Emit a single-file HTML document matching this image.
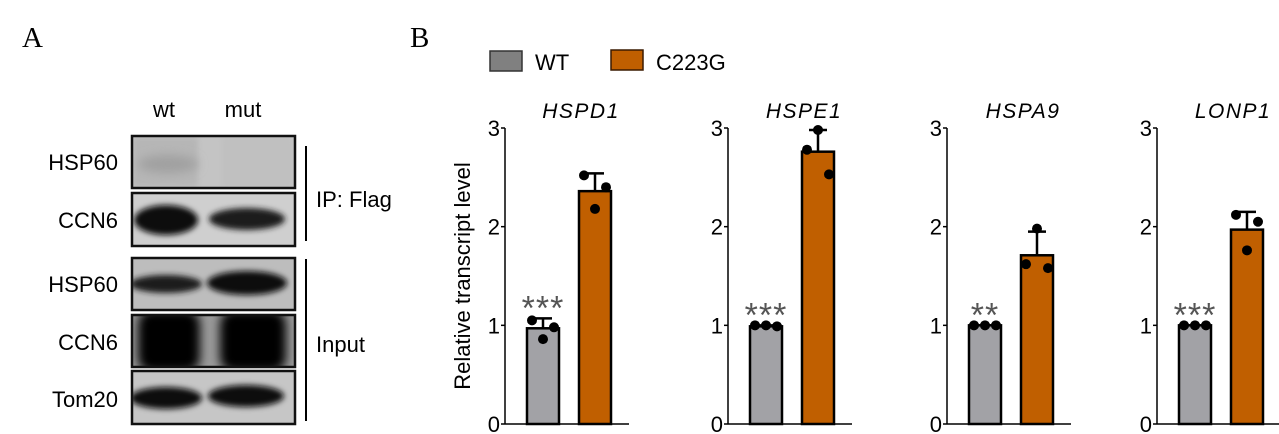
<!DOCTYPE html>
<html><head><meta charset="utf-8">
<style>
body{margin:0;background:#fff;width:1279px;height:434px;overflow:hidden}
svg{display:block}
text{font-family:"Liberation Sans",sans-serif}
</style></head>
<body>
<svg id="fig" width="1279" height="434" viewBox="0 0 1279 434" xmlns="http://www.w3.org/2000/svg">
<defs>
<filter id="blur" x="-30%" y="-60%" width="160%" height="220%"><feGaussianBlur stdDeviation="5"/></filter>
<filter id="blur2" x="-30%" y="-60%" width="160%" height="220%"><feGaussianBlur stdDeviation="3"/></filter>
<filter id="blur4" x="-30%" y="-60%" width="160%" height="220%"><feGaussianBlur stdDeviation="5"/></filter>
<clipPath id="c1"><rect x="133" y="137" width="161" height="50"/></clipPath>
<clipPath id="c2"><rect x="133" y="194" width="161" height="51"/></clipPath>
<clipPath id="c3"><rect x="133" y="259" width="161" height="50"/></clipPath>
<clipPath id="c4"><rect x="133" y="316" width="161" height="50"/></clipPath>
<clipPath id="c5"><rect x="133" y="372" width="161" height="51"/></clipPath>
</defs>
<text x="22" y="47" style="font-family:'Liberation Serif',serif" font-size="29">A</text>
<text x="410" y="47" style="font-family:'Liberation Serif',serif" font-size="29">B</text>

<g>
<text x="164" y="117" font-size="22" text-anchor="middle">wt</text>
<text x="243" y="117" font-size="22" text-anchor="middle">mut</text>
<g font-size="22" text-anchor="end">
<text x="118" y="170">HSP60</text>
<text x="118" y="228">CCN6</text>
<text x="118" y="292">HSP60</text>
<text x="118" y="350">CCN6</text>
<text x="118" y="407">Tom20</text>
</g>
<g clip-path="url(#c1)">
<rect x="133" y="137" width="161" height="50" fill="#c4c4c4"/>
<rect x="133" y="137" width="65" height="50" fill="#b6b6b6" filter="url(#blur2)"/>
<rect x="222" y="137" width="70" height="50" fill="#c0c0c0" filter="url(#blur2)"/>
<ellipse cx="168" cy="164" rx="30" ry="9" fill="#a0a0a0" filter="url(#blur)"/>
</g>
<g clip-path="url(#c2)">
<rect x="133" y="194" width="161" height="51" fill="#cfcfcf"/>
<ellipse cx="166" cy="220" rx="32" ry="15" fill="#0a0a0a" filter="url(#blur2)"/>
<ellipse cx="247" cy="219" rx="38" ry="11" fill="#1a1a1a" filter="url(#blur2)"/>
</g>
<g clip-path="url(#c3)">
<rect x="133" y="259" width="161" height="50" fill="#bdbdbd"/>
<ellipse cx="166" cy="284" rx="36" ry="9" fill="#1a1a1a" filter="url(#blur2)"/>
<ellipse cx="247" cy="283" rx="40" ry="12" fill="#101010" filter="url(#blur2)"/>
</g>
<g clip-path="url(#c4)">
<rect x="133" y="316" width="161" height="50" fill="#9a9a9a"/>
<rect x="138" y="310" width="62" height="62" rx="14" fill="#000" filter="url(#blur4)"/>
<rect x="220" y="310" width="66" height="62" rx="14" fill="#000" filter="url(#blur4)"/>
</g>
<g clip-path="url(#c5)">
<rect x="133" y="372" width="161" height="51" fill="#c6c6c6"/>
<ellipse cx="166" cy="398" rx="36" ry="11" fill="#0a0a0a" filter="url(#blur2)"/>
<ellipse cx="246" cy="396" rx="38" ry="11" fill="#0a0a0a" filter="url(#blur2)"/>
</g>
<g fill="none" stroke="#111" stroke-width="2.5">
<rect x="132" y="136" width="163" height="52"/>
<rect x="132" y="193" width="163" height="53"/>
<rect x="132" y="258" width="163" height="52"/>
<rect x="132" y="315" width="163" height="52"/>
<rect x="132" y="371" width="163" height="53"/>
</g>
<line x1="306" y1="146" x2="306" y2="241" stroke="#000" stroke-width="2"/>
<line x1="306" y1="259" x2="306" y2="421" stroke="#000" stroke-width="2"/>
<text x="316" y="207" font-size="22">IP: Flag</text>
<text x="316" y="352" font-size="22">Input</text>
</g>

<g>
<rect x="490" y="51" width="32" height="20" fill="#808080" stroke="#333" stroke-width="1.5"/>
<text x="535" y="70" font-size="22">WT</text>
<rect x="611" y="50" width="32" height="20" fill="#c05f00" stroke="#3a1a00" stroke-width="1.5"/>
<text x="656" y="70" font-size="22">C223G</text>
</g>
<text transform="translate(470,276) rotate(-90)" font-size="22" text-anchor="middle">Relative transcript level</text>
<g id="charts"></g>
</svg>
<script>
const genes = ["HSPD1","HSPE1","HSPA9","LONP1"];
const wtMeans = [0.97, 0.99, 1.0, 1.0];
const wtErr = [1.07, 1.0, 1.0, 1.0];
const wtPoints = [[1.05,0.86,0.98],[1.0,1.0,0.99],[1.0,1.0,1.0],[1.0,1.0,1.0]];
const mutMeans = [2.36, 2.76, 1.71, 1.97];
const mutErr = [2.54, 2.98, 1.95, 2.15];
const mutPoints = [[2.52,2.18,2.4],[2.78,2.98,2.53],[1.62,1.98,1.58],[2.12,1.76,2.05]];
const stars = ["***","***","**","***"];
const yTicks = [0,1,2,3];

const NS="http://www.w3.org/2000/svg";
const root=document.getElementById('charts');
const axisX=[505,728,947,1157];
const y0=424, y3=128;
function yS(v){return y0-(y0-y3)*v/3;}
function mk(tag,attrs,parent){const e=document.createElementNS(NS,tag);for(const k in attrs)e.setAttribute(k,attrs[k]);parent.appendChild(e);return e;}
genes.forEach((g,i)=>{
  const ax=axisX[i];
  const grp=mk('g',{},root);
  
  
  const t=mk('text',{x:ax+76,y:118,'font-size':21,'font-style':'italic','text-anchor':'middle','letter-spacing':'1.5'},grp);
  t.textContent=g;
  
  
  const ya=mk('line',{x1:ax,y1:yS(3),x2:ax,y2:y0,stroke:'#000','stroke-width':1.5},grp);
  
  
  const xa=mk('line',{x1:ax,y1:y0,x2:ax+124,y2:y0,stroke:'#000','stroke-width':1.5},grp);
  
  
  yTicks.forEach(v=>{
    mk('line',{x1:ax-4,y1:yS(v),x2:ax,y2:yS(v),stroke:'#000','stroke-width':1.5},grp);
    const tl=mk('text',{x:ax-5,y:yS(v)+8,'font-size':22,'text-anchor':'end'},grp);
    tl.textContent=v;
    
    
  });
  const series=[[wtMeans[i],wtErr[i],wtPoints[i],'#a2a2a6',ax+22],[mutMeans[i],mutErr[i],mutPoints[i],'#c05f00',ax+74]];
  series.forEach((s,j)=>{
    const [m,e,pts,col,bx]=s;const w=32;
    const cx=bx+w/2;
    const el=mk('line',{x1:cx,y1:yS(m),x2:cx,y2:yS(e),stroke:'#000','stroke-width':2.5},grp);
    
    
    mk('line',{x1:cx-9,y1:yS(e),x2:cx+9,y2:yS(e),stroke:'#000','stroke-width':2.5},grp);
    const b=mk('rect',{x:bx,y:yS(m),width:w,height:y0-yS(m),fill:col,stroke:'#000','stroke-width':2.5},grp);
    
    
    pts.forEach((p,k)=>{
      const c=mk('circle',{cx:cx+(k-1)*11,cy:yS(p),r:5,fill:'#000'},grp);
      
      
    });
  });
  const st=mk('text',{x:ax+38,y:yS(Math.max(...wtPoints[i],wtErr[i]))+1,'font-size':34,'text-anchor':'middle',fill:'#555','letter-spacing':'1'},grp);
  st.textContent=stars[i];
  
  
});
</script>
</body></html>
